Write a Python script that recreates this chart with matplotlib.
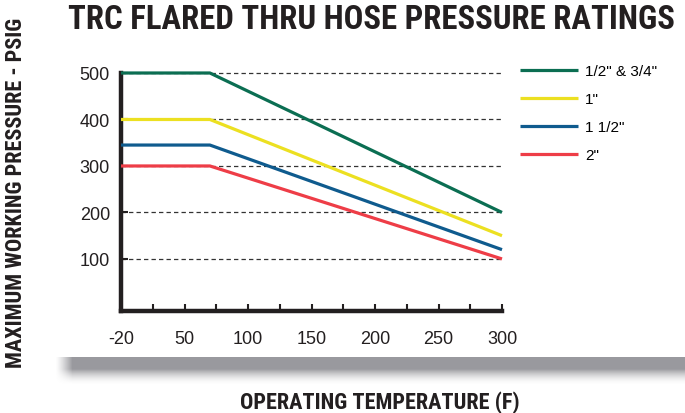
import matplotlib
matplotlib.use("Agg")
import matplotlib.pyplot as plt
import numpy as np
from matplotlib import font_manager

# condensed bold for the headings, first one that is installed
names = set(f.name for f in font_manager.fontManager.ttflist)
narrow = next((n for n in ['Roboto Condensed', 'Archivo Narrow', 'Liberation Sans Narrow',
                           'Asap Condensed', 'Barlow Condensed'] if n in names), 'Liberation Sans')
plt.rcParams['font.family'] = ['Liberation Sans', 'DejaVu Sans']

# data
tick_temps = [-20, 50, 100, 150, 200, 250, 300]
temps = [-20, 70, 300]
sizes = ['1/2" & 3/4"', '1"', '1 1/2"', '2"']
press_34 = [500, 500, 200]
press_1 = [400, 400, 150]
press_112 = [345, 345, 120]
press_2 = [300, 300, 100]
colors = ['#0b6e52', '#ece021', '#0f5b8e', '#ee3d47']
series = [press_34, press_1, press_112, press_2]

# x axis: labelled ticks are spaced evenly, not linearly
idx = np.arange(len(tick_temps), dtype=float)
def fwd(t):
    return np.interp(t, tick_temps, idx)
def inv(p):
    return np.interp(p, idx, tick_temps)

fig = plt.figure(figsize=(6.85, 4.14), dpi=100)

# drop shadow band under the panel
sh = fig.add_axes([50/685, 1-392/414, 1-50/685, 34/414])
sh.axis('off')
ny, nx = 68, 635
yy = np.linspace(0, 34, ny)[:, None]      # px below 358
xx = np.linspace(0, 635, nx)[None, :]     # px right of 50
vert = np.where(yy < 12, 1.0, np.clip(1 - (yy - 12) / 16, 0, 1) ** 1.8)
horiz = np.clip((xx - 5) / 17, 0, 1) ** 1.3
img = np.zeros((ny, nx, 4))
img[..., 0] = 0.60
img[..., 1] = 0.60
img[..., 2] = 0.62
img[..., 3] = vert * horiz
sh.imshow(img, aspect='auto', extent=[0, 1, 0, 1], origin='upper', interpolation='bilinear')

ax = fig.add_axes([121/685, 1-312/414, 381/685, 238/414])
ax.set_xscale('function', functions=(fwd, inv))
ax.set_xlim(-20, 300)
ax.set_ylim(-12, 500)

for yv in [100, 200, 300, 400, 500]:
    ax.plot([-20, 300], [yv, yv], ls=(0, (3.5, 2.5)), color='#333333', lw=0.9, zorder=1, clip_on=False)

for s, c, lab in zip(series, colors, sizes):
    ax.plot(temps, s, color=c, lw=2.3, label=lab, zorder=3, clip_on=False, solid_capstyle='butt')

for side in ['top', 'right']:
    ax.spines[side].set_visible(False)
for side in ['left', 'bottom']:
    ax.spines[side].set_linewidth(3.2)
    ax.spines[side].set_color('#231f20')
    ax.spines[side].set_capstyle('projecting')

ax.set_xticks(tick_temps)
ax.set_xticklabels([str(t) for t in tick_temps])
ax.set_xticks([inv(i + 0.5) for i in range(len(tick_temps) - 1)], minor=True)
ax.set_yticks([100, 200, 300, 400, 500])
ax.tick_params(axis='both', which='both', direction='in', length=5, width=1.5, color='#231f20',
               labelsize=13, labelcolor='#231f20')
ax.tick_params(axis='x', which='major', pad=14)
ax.tick_params(axis='y', pad=8)

ax.legend(loc='upper left', bbox_to_anchor=(520/685, 1-65/414), bbox_transform=fig.transFigure,
          frameon=False, fontsize=11, handlelength=3.8, handletextpad=0.45, labelspacing=0.92,
          borderpad=0, borderaxespad=0)

fig.text(68/685, 1-20/414, "TRC FLARED THRU HOSE PRESSURE RATINGS", fontsize=23.6, fontweight='bold',
         family=[narrow, 'DejaVu Sans'], color='#231f20', ha='left', va='center')
fig.text(380/685, 1-403/414, "OPERATING TEMPERATURE (F)", fontsize=16, fontweight='bold',
         family=[narrow, 'DejaVu Sans'], color='#231f20', ha='center', va='center')
fig.text(16/685, 1-193/414, "MAXIMUM WORKING PRESSURE - PSIG", fontsize=16, fontweight='bold',
         family=[narrow, 'DejaVu Sans'], color='#231f20', ha='center', va='center', rotation=90)

fig.savefig("out.png", dpi=100)
